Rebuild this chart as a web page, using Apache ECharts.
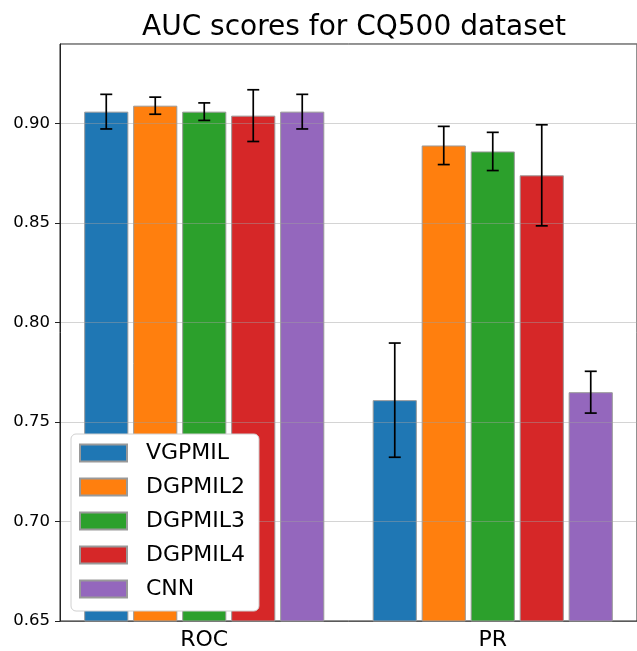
<!DOCTYPE html>
<html>
<head>
<meta charset="utf-8">
<script src="https://cdn.jsdelivr.net/npm/echarts@6/dist/echarts.min.js"></script>
<style>
html,body{margin:0;padding:0;background:#fff;}
#chart{width:637px;height:651px;}
</style>
</head>
<body>
<div id="chart"></div>
<script>
var categories = ['ROC', 'PR'];
var models = ['VGPMIL', 'DGPMIL2', 'DGPMIL3', 'DGPMIL4', 'CNN'];
var colors = ['#1f77b4', '#ff7f0e', '#2ca02c', '#d62728', '#9467bd'];
var VGPMIL = [0.906, 0.761];
var DGPMIL2 = [0.909, 0.889];
var DGPMIL3 = [0.906, 0.886];
var DGPMIL4 = [0.904, 0.874];
var CNN = [0.906, 0.765];
var VGPMIL_err = [0.0087, 0.0287];
var DGPMIL2_err = [0.0043, 0.0096];
var DGPMIL3_err = [0.0044, 0.0096];
var DGPMIL4_err = [0.0130, 0.0254];
var CNN_err = [0.0087, 0.0105];
var yTicks = [0.65, 0.70, 0.75, 0.80, 0.85, 0.90];

var values = [VGPMIL, DGPMIL2, DGPMIL3, DGPMIL4, CNN];
var errors = [VGPMIL_err, DGPMIL2_err, DGPMIL3_err, DGPMIL4_err, CNN_err];

var FONT = 'DejaVu Sans';
var BAR_FRAC = 0.153;
var GAP_FRAC = 0.11;

var series = [];
models.forEach(function (m, i) {
  series.push({
    name: m,
    type: 'bar',
    data: values[i],
    barWidth: (BAR_FRAC * 100) + '%',
    barGap: (GAP_FRAC * 100) + '%',
    itemStyle: { color: colors[i], borderColor: '#999', borderWidth: 1 },
    z: 2,
    animation: false
  });
});
models.forEach(function (m, i) {
  series.push({
    name: m + ' err',
    type: 'custom',
    z: 5,
    animation: false,
    data: categories.map(function (c, k) { return [k, values[i][k], errors[i][k]]; }),
    renderItem: function (params, api) {
      var k = api.value(0), v = api.value(1), e = api.value(2);
      var band = api.size([1, 0])[0];
      var bw = band * BAR_FRAC;
      var pitch = bw * (1 + GAP_FRAC);
      var off = (i - (models.length - 1) / 2) * pitch;
      var top = api.coord([k, v + e]);
      var bot = api.coord([k, v - e]);
      var x = top[0] + off;
      var cap = 6;
      var st = { stroke: '#000', lineWidth: 1.7 };
      return {
        type: 'group',
        children: [
          { type: 'line', shape: { x1: x, y1: top[1], x2: x, y2: bot[1] }, style: st },
          { type: 'line', shape: { x1: x - cap, y1: top[1], x2: x + cap, y2: top[1] }, style: st },
          { type: 'line', shape: { x1: x - cap, y1: bot[1], x2: x + cap, y2: bot[1] }, style: st }
        ]
      };
    }
  });
});

var chart = echarts.init(document.getElementById('chart'));
chart.setOption({
  animation: false,
  backgroundColor: '#fff',
  title: {
    text: 'AUC scores for CQ500 dataset',
    left: 349, top: 9, textAlign: 'center',
    textStyle: { fontFamily: FONT, fontSize: 28, fontWeight: 'normal', color: '#000' }
  },
  grid: {
    left: 60, top: 44, width: 580, bottom: 29,
    show: true, borderColor: '#222', borderWidth: 1, backgroundColor: 'transparent'
  },
  legend: {
    data: models,
    orient: 'vertical',
    left: 71, top: 434,
    z: 10,
    icon: 'rect',
    itemWidth: 47, itemHeight: 17, itemGap: 12,
    padding: [8, 14, 11, 8],
    backgroundColor: '#fff',
    borderColor: '#d0d0d0', borderWidth: 1, borderRadius: 5,
    textStyle: { fontFamily: FONT, fontSize: 22, color: '#000', padding: [0, 0, 0, 14] },
    selectedMode: false
  },
  xAxis: {
    type: 'category',
    data: categories,
    axisLine: { lineStyle: { color: '#222', width: 1 } },
    axisTick: { alignWithLabel: true, length: 5, lineStyle: { color: '#222' } },
    axisLabel: { fontFamily: FONT, fontSize: 22, color: '#000', margin: 8 },
    splitLine: { show: false }
  },
  yAxis: {
    type: 'value',
    min: 0.65, max: 0.94, interval: 0.05,
    z: 3,
    axisLine: { show: true, lineStyle: { color: '#222', width: 1 } },
    axisTick: { show: true, length: 5, lineStyle: { color: '#222' } },
    axisLabel: {
      fontFamily: FONT, fontSize: 16.5, color: '#000', margin: 10,
      showMaxLabel: false,
      formatter: function (v) {
        for (var t = 0; t < yTicks.length; t++) {
          if (Math.abs(yTicks[t] - v) < 1e-6) return yTicks[t].toFixed(2);
        }
        return '';
      }
    },
    splitLine: { show: true, lineStyle: { color: 'rgba(160,160,160,0.45)', width: 1.2 } }
  },
  series: series
});
</script>
</body>
</html>
